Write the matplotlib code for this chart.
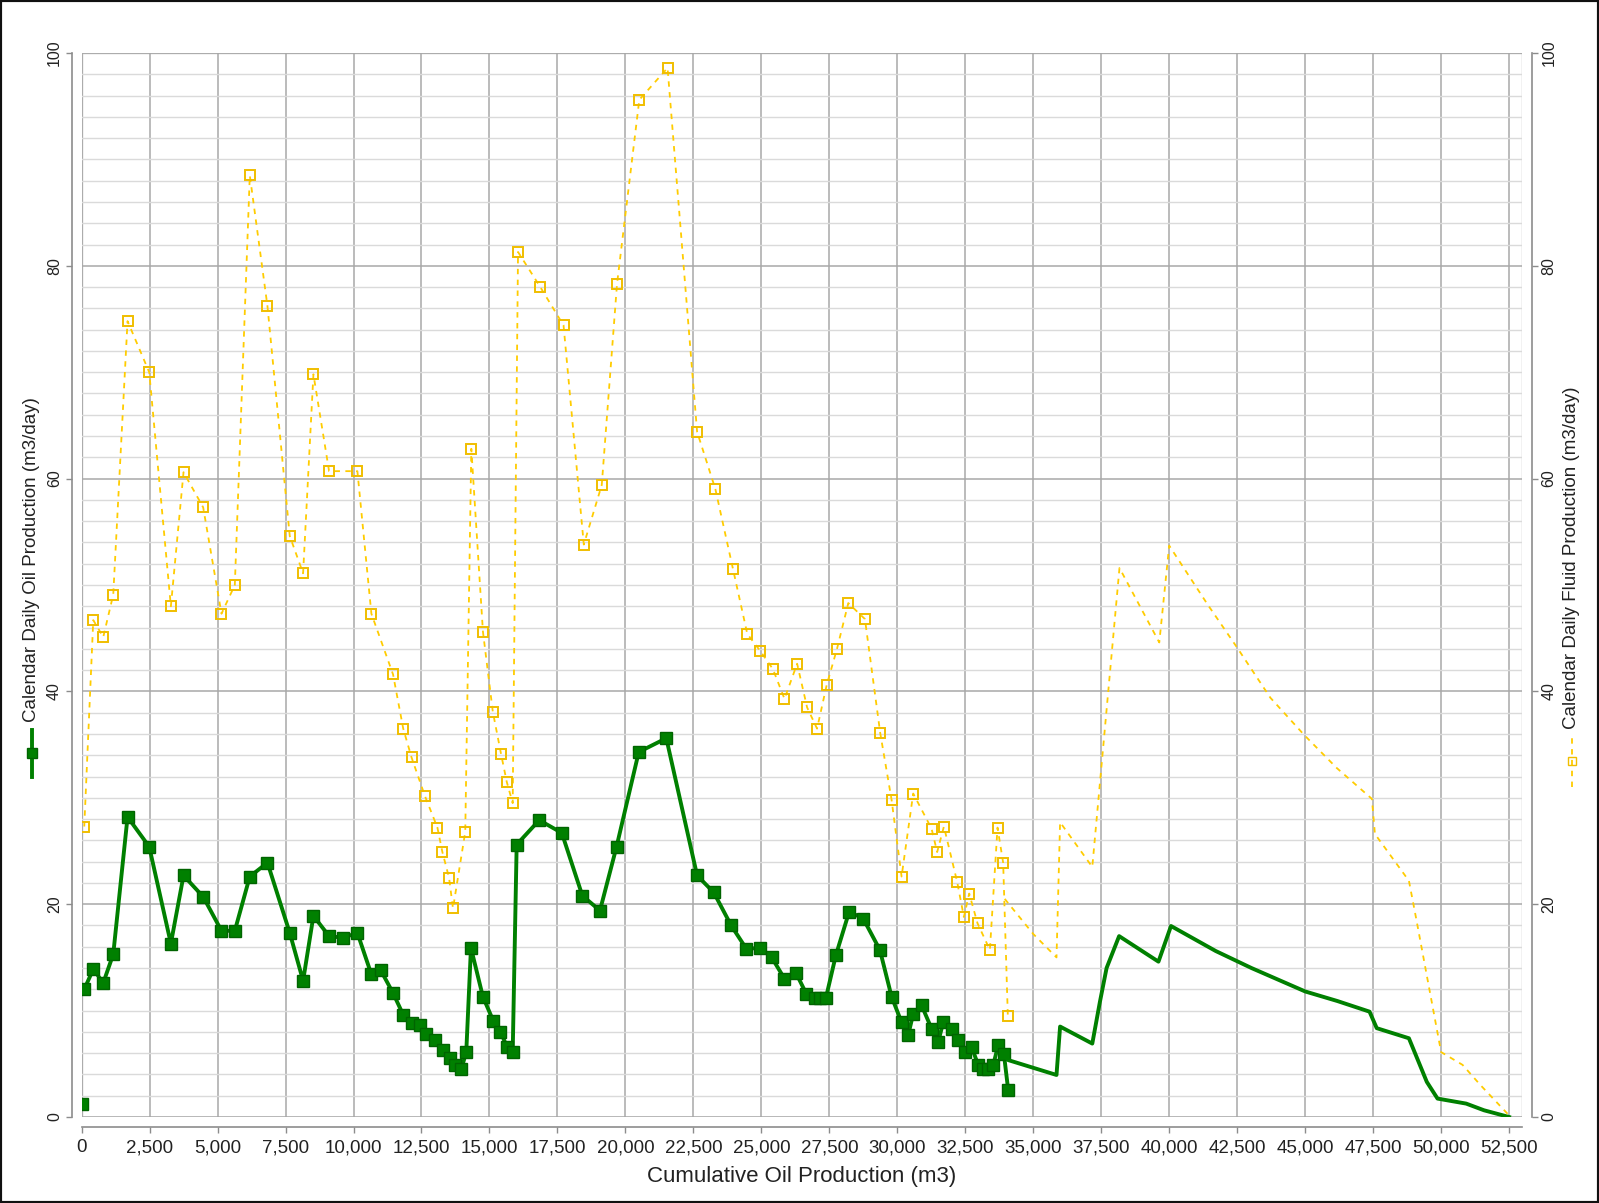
import numpy as np
import matplotlib
matplotlib.use('Agg')
import matplotlib.pyplot as plt
from matplotlib.lines import Line2D
from matplotlib.patches import Rectangle
from matplotlib.ticker import FuncFormatter, MultipleLocator

plt.rcParams['font.family'] = ['Liberation Sans', 'DejaVu Sans']

# Datos: produccion diaria de petroleo (con marcadores)
oil_x = [0, 98, 429, 796, 1164, 1690, 2487, 3283, 3749, 4471, 5145, 5635, 6186,
         6836, 7656, 8146, 8526, 9102, 9616, 10143, 10658, 11000, 11454, 11829,
         12134, 12439, 12683, 12988, 13293, 13537, 13720, 13964, 14147, 14320,
         14759, 15147, 15404, 15648, 15855, 16001, 16831, 17661, 18417, 19064,
         19674, 20491, 21504, 22637, 23250, 23890, 24450, 24959, 25380, 25850,
         26280, 26650, 26962, 27150, 27375, 27740, 28230, 28746, 29360, 29790,
         30158, 30401, 30585, 30893, 31260, 31504, 31688, 31995, 32239, 32486,
         32730, 32974, 33160, 33343, 33525, 33709, 33919, 34080]
oil_y = [1.2, 12.0, 13.9, 12.6, 15.3, 28.2, 25.4, 16.3, 22.7, 20.7, 17.5, 17.5, 22.6,
         23.9, 17.3, 12.8, 18.9, 17.0, 16.85, 17.3, 13.4, 13.8, 11.65, 9.6,
         8.8, 8.6, 7.8, 7.2, 6.3, 5.5, 4.9, 4.5, 6.1, 15.9,
         11.3, 9.0, 8.0, 6.6, 6.1, 25.6, 27.9, 26.7, 20.8, 19.4,
         25.4, 34.3, 35.6, 22.7, 21.1, 18.0, 15.8, 15.9, 15.0, 13.0,
         13.5, 11.6, 11.2, 11.2, 11.2, 15.2, 19.3, 18.65, 15.7, 11.3,
         8.9, 7.7, 9.7, 10.5, 8.3, 7.05, 8.9, 8.3, 7.2, 6.1,
         6.6, 4.9, 4.55, 4.55, 4.85, 6.75, 5.95, 2.5]

# Continuacion sin marcadores
oil_tail_x = [33919, 34079, 35855, 35987, 37171, 37450, 37697, 38158, 39605, 40066,
              41711, 43026, 45000, 46184, 47368, 47632, 48816, 49474, 49868,
              50921, 51579, 52500]
oil_tail_y = [5.9, 5.35, 3.95, 8.5, 6.9, 10.8, 14.0, 17.0, 14.6, 17.95,
              15.6, 14.0, 11.8, 10.9, 9.9, 8.35, 7.4, 3.3, 1.73,
              1.26, 0.63, 0.0]

# Produccion diaria de fluido (con marcadores)
fluid_x = [98, 429, 796, 1164, 1690, 2487, 3283, 3749, 4471, 5145, 5635, 6186,
           6836, 7656, 8146, 8526, 9102, 10143, 10658, 11454, 11829, 12134,
           12622, 13086, 13269, 13513, 13659, 14110, 14333, 14761, 15123, 15428,
           15636, 15855, 16051, 16870, 17725, 18470, 19130, 19692, 20511, 21550,
           22637, 23310, 23957, 24483, 24959, 25424, 25851, 26316, 26682, 27049,
           27403, 27782, 28198, 28809, 29371, 29790, 30157, 30585, 31260, 31466,
           31714, 32201, 32449, 32644, 32951, 33405, 33686, 33893, 34065]
fluid_y = [27.3, 46.7, 45.1, 49.1, 74.8, 70.0, 48.0, 60.6, 57.3, 47.3, 50.0, 88.5,
           76.2, 54.6, 51.1, 69.8, 60.7, 60.7, 47.3, 41.6, 36.5, 33.8,
           30.2, 27.2, 24.9, 22.5, 19.6, 26.8, 62.8, 45.6, 38.1, 34.1,
           31.5, 29.5, 81.3, 78.0, 74.4, 53.8, 59.4, 78.3, 95.6, 98.6,
           64.4, 59.0, 51.5, 45.4, 43.8, 42.1, 39.3, 42.6, 38.5, 36.5,
           40.6, 44.0, 48.3, 46.8, 36.1, 29.8, 22.6, 30.4, 27.1, 24.9,
           27.3, 22.1, 18.8, 21.0, 18.2, 15.7, 27.2, 23.9, 9.5]

fluid_tail_x = [33950, 35000, 35855, 35987, 37171, 38171, 39635, 40000, 41404,
                42502, 43722, 44966, 46162, 47455, 47566, 48816, 49079, 50000,
                50789, 51447, 52500]
fluid_tail_y = [20.5, 17.2, 15.0, 27.7, 23.5, 51.6, 44.6, 53.7, 48.2,
                44.1, 39.4, 35.9, 32.8, 29.9, 26.6, 22.2, 18.7, 6.1,
                4.9, 3.0, 0.15]

GREEN = '#008000'
GREEN_EDGE = '#006400'
YELLOW = '#FFCC00'
YELLOW_EDGE = '#F0BE00'
W, H = 1599, 1203

fig = plt.figure(figsize=(W / 100, H / 100), dpi=100, facecolor='white')
ax = fig.add_axes([81.6 / W, 1 - 1117 / H, (1522 - 81.6) / W, (1117 - 53) / H])
ax2 = ax.twinx()

ax.set_xlim(0, 52975)
ax.set_ylim(0, 100)
ax2.set_ylim(0, 100)

# Rejilla
ax.xaxis.set_major_locator(MultipleLocator(2500))
ax.yaxis.set_major_locator(MultipleLocator(20))
ax.yaxis.set_minor_locator(MultipleLocator(2))
ax2.yaxis.set_major_locator(MultipleLocator(20))
ax.grid(which='major', axis='both', color='#A8A8A8', linewidth=1.1)
ax.grid(which='minor', axis='y', color='#DADADA', linewidth=1.0)
ax.set_axisbelow(True)
ax.tick_params(which='minor', length=0)

# Ejes desplazados
for a in (ax, ax2):
    for s in a.spines.values():
        s.set_visible(False)
ax.spines['left'].set_visible(True)
ax.spines['bottom'].set_visible(True)
ax2.spines['right'].set_visible(True)
for s in (ax.spines['left'], ax.spines['bottom'], ax2.spines['right']):
    s.set_position(('outward', 7.2))
    s.set_color('#8C8C8C')
    s.set_linewidth(1.2)
ax.add_patch(Rectangle((0, 0), 1, 1, transform=ax.transAxes, fill=False,
                       edgecolor='#BDBDBD', linewidth=1.0, zorder=0.5))

ax.xaxis.set_major_formatter(FuncFormatter(lambda v, p: f"{int(v):,}"))
ax.tick_params(axis='x', length=4, width=1, color='#8C8C8C', pad=5,
               labelsize=13.5, labelcolor='#222222')
ax.tick_params(axis='y', length=4, width=1, color='#8C8C8C', pad=3,
               labelsize=11.5, labelcolor='#222222', labelrotation=90)
ax2.tick_params(axis='y', length=4, width=1, color='#8C8C8C', pad=3,
                labelsize=11.5, labelcolor='#222222', labelrotation=90)
for lab in ax.get_yticklabels() + ax2.get_yticklabels():
    lab.set_va('center')

ax.set_xlabel('Cumulative Oil Production (m3)', fontsize=16, color='#222222',
              labelpad=7)

# Series
ax.plot(oil_x[:1], oil_y[:1], 's', color=GREEN, mec=GREEN_EDGE, ms=8, zorder=3)
ax.plot(oil_x[1:], oil_y[1:], '-s', color=GREEN, mec=GREEN_EDGE, ms=8,
        lw=2.8, zorder=3)
ax.plot(oil_tail_x, oil_tail_y, '-', color=GREEN, lw=2.8, zorder=3)

ax2.plot(fluid_x, fluid_y, '--s', color=YELLOW, mfc='none', mec=YELLOW_EDGE,
         mew=1.4, ms=7.5, lw=1.3, dashes=(3, 3))
ax2.plot(fluid_tail_x, fluid_tail_y, '--', color=YELLOW, lw=1.3, dashes=(3, 3))

# Titulos de ejes con icono de leyenda
fig.text(32 / W, 1 - 722 / H, 'Calendar Daily Oil Production (m3/day)',
         rotation=90, ha='center', va='bottom', fontsize=13.5, color='#222222')
fig.add_artist(Line2D([32 / W, 32 / W], [1 - 777 / H, 1 - 730 / H],
                      color=GREEN, lw=2.8, transform=fig.transFigure))
fig.add_artist(Line2D([32 / W], [1 - 753 / H], color=GREEN, marker='s', ms=7,
                      mec=GREEN_EDGE, transform=fig.transFigure))

fig.text(1572 / W, 1 - 729 / H, 'Calendar Daily Fluid Production (m3/day)',
         rotation=90, ha='center', va='bottom', fontsize=13.5, color='#222222')
fig.add_artist(Line2D([1572 / W, 1572 / W], [1 - 787 / H, 1 - 736 / H],
                      color=YELLOW, lw=1.3, ls='--', dashes=(3, 3),
                      transform=fig.transFigure))
fig.add_artist(Line2D([1572 / W], [1 - 761 / H], color=YELLOW, marker='s',
                      ms=6, mfc='none', mec=YELLOW_EDGE,
                      transform=fig.transFigure))

# Marco exterior
fig.add_artist(Rectangle((0, 0), 1, 1, transform=fig.transFigure, fill=False,
                         edgecolor='#111111', linewidth=3))

fig.savefig('out.png', dpi=100, facecolor='white')
